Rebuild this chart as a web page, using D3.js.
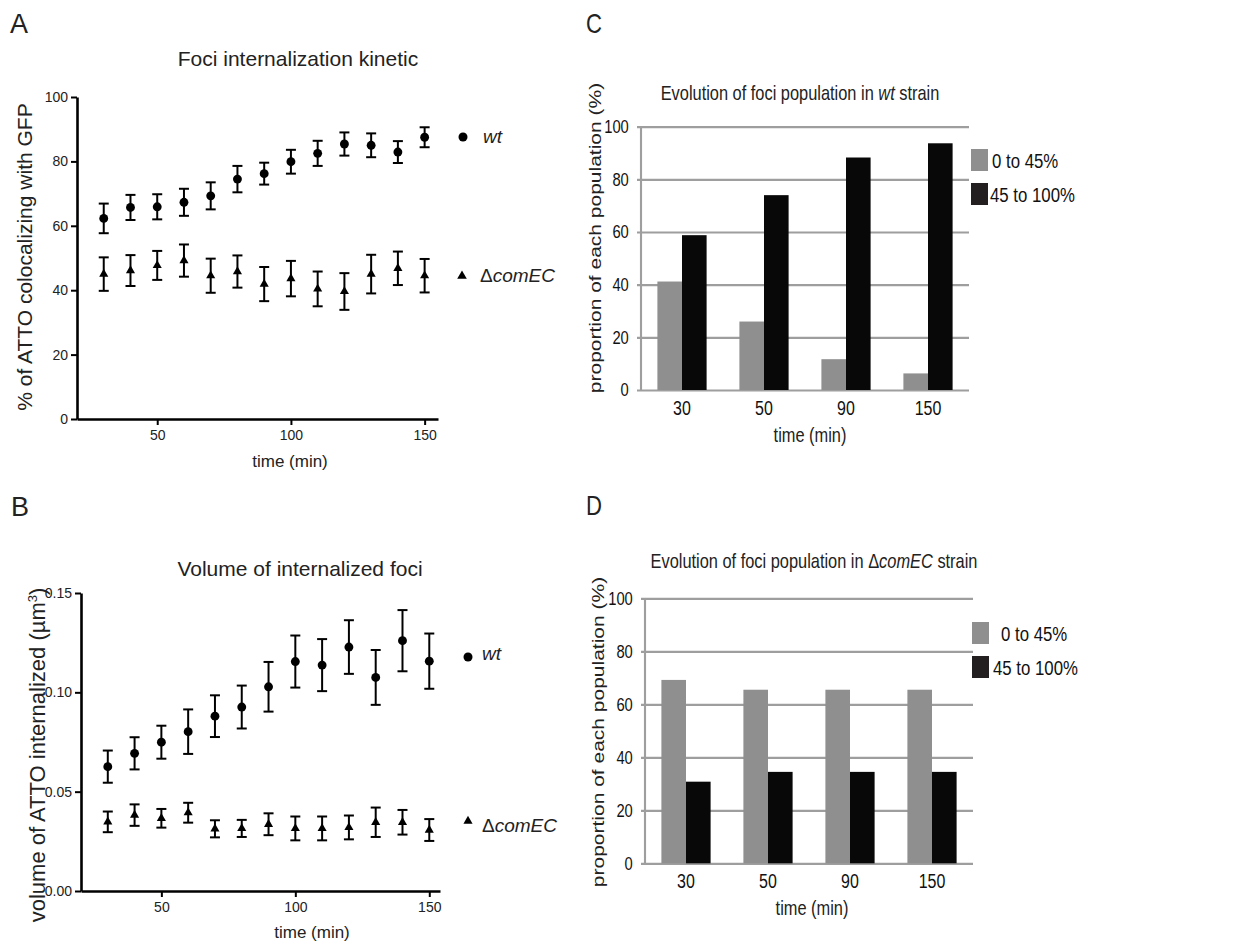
<!DOCTYPE html>
<html>
<head>
<meta charset="utf-8">
<script src="https://cdn.jsdelivr.net/npm/d3@7"></script>
<style>
body { margin: 0; background: #fff; }
svg { display: block; }
svg text { font-family: "Liberation Sans", Arial, Helvetica, sans-serif; }
</style>
</head>
<body>
<div id="chart"></div>
<script>
// Data
const times = [30, 40, 50, 60, 70, 80, 90, 100, 110, 120, 130, 140, 150];
const wtColoc = [62.3, 65.7, 65.9, 67.3, 69.3, 74.5, 76.2, 79.9, 82.5, 85.4, 85.0, 82.9, 87.5];
const wtColocErr = [4.6, 3.9, 3.9, 4.2, 4.2, 4.1, 3.4, 3.7, 3.9, 3.6, 3.7, 3.4, 3.1];
const comecColoc = [45.0, 46.1, 47.7, 49.2, 44.5, 45.8, 41.9, 43.6, 40.4, 39.6, 45.0, 46.8, 44.5];
const comecColocErr = [5.2, 4.8, 4.5, 5.0, 5.3, 5.0, 5.3, 5.5, 5.4, 5.7, 6.0, 5.2, 5.2];
const wtVolume = [0.0626, 0.0693, 0.0749, 0.0802, 0.0880, 0.0926, 0.1028, 0.1155, 0.1137, 0.1228, 0.1075, 0.1260, 0.1157];
const wtVolumeErr = [0.0081, 0.0081, 0.0083, 0.0112, 0.0105, 0.0108, 0.0125, 0.0131, 0.0131, 0.0135, 0.0138, 0.0154, 0.0139];
const comecVolume = [0.0348, 0.0382, 0.0366, 0.0394, 0.0313, 0.0315, 0.0336, 0.0315, 0.0315, 0.0320, 0.0346, 0.0346, 0.0307];
const comecVolumeErr = [0.0052, 0.0054, 0.0047, 0.0050, 0.0043, 0.0043, 0.0055, 0.0060, 0.0060, 0.0060, 0.0074, 0.0062, 0.0055];

const barTimes = ['30', '50', '90', '150'];
const popKeys = ['low', 'high'];
const popLabels = ['0 to 45%', '45 to 100%'];
const wtLow = [41.2, 26.0, 11.7, 6.3];
const wtHigh = [58.8, 74.0, 88.3, 93.7];
const comecLow = [69.2, 65.5, 65.5, 65.5];
const comecHigh = [30.8, 34.5, 34.5, 34.5];

const svg = d3.select('#chart').append('svg')
    .attr('width', 1234)
    .attr('height', 945);

svg.append('rect').attr('width', 1234).attr('height', 945).attr('fill', '#fff');

const barColors = {low: '#8f8f8f', high: '#080808'};
const legendColors = {low: '#8f8f8f', high: '#231f20'};
const squeeze = 0.82; // bar panels look horizontally compressed

function strainLabel(sel) {
    sel.append('tspan').text('\u0394');
    sel.append('tspan').attr('font-style', 'italic').text('comEC');
}

// Scatter with error bars (panels A and B)
function scatterPanel(o) {
    const x = d3.scaleLinear().domain(o.xDomain).range([o.left, o.right]);
    const y = d3.scaleLinear().domain(o.yDomain).range([o.bottom, o.top]);
    const g = svg.append('g');

    g.append('text').attr('x', o.letter[0]).attr('y', o.letter[1])
        .attr('font-size', 27).attr('fill', '#222').text(o.letter[2]);

    // Axes
    const ya = g.append('g')
        .attr('transform', `translate(${o.left},0)`)
        .call(d3.axisLeft(y).tickValues(o.yTicks).tickFormat(o.yFormat)
            .tickSize(6).tickSizeOuter(0).tickPadding(3));
    const xa = g.append('g')
        .attr('transform', `translate(0,${o.bottom})`)
        .call(d3.axisBottom(x).tickValues([50, 100, 150])
            .tickSize(6).tickSizeOuter(0).tickPadding(5));
    [ya, xa].forEach(a => {
        a.attr('font-family', null);
        a.select('.domain').attr('stroke', '#000').attr('stroke-width', 2.6);
        a.selectAll('.tick line').attr('stroke', '#000').attr('stroke-width', 2);
        a.selectAll('.tick text').attr('font-size', 14).attr('fill', '#222');
    });

    // Title and axis labels
    g.append('text').attr('x', o.titleX).attr('y', o.titleY)
        .attr('text-anchor', 'middle').attr('font-size', 21).attr('fill', '#222')
        .text(o.title);
    g.append('text').attr('x', o.xLabelX).attr('y', o.xLabelY)
        .attr('text-anchor', 'middle').attr('font-size', 17).attr('fill', '#222')
        .text('time (min)');
    const yl = g.append('text')
        .attr('transform', `translate(${o.yLabelX},${o.yLabelY}) rotate(-90)`)
        .attr('text-anchor', 'middle').attr('dy', '0.35em')
        .attr('font-size', o.yLabelSize).attr('fill', '#222');
    o.yLabel(yl);

    // Series
    o.series.forEach(s => {
        const pts = times.map((t, i) => ({t: t, m: s.mean[i], e: s.err[i]}));
        const eg = g.append('g').selectAll('g').data(pts).enter().append('g')
            .attr('stroke', '#000').attr('stroke-width', 2);
        eg.append('line')
            .attr('x1', d => x(d.t)).attr('x2', d => x(d.t))
            .attr('y1', d => y(d.m - d.e)).attr('y2', d => y(d.m + d.e));
        eg.append('line')
            .attr('x1', d => x(d.t) - 5).attr('x2', d => x(d.t) + 5)
            .attr('y1', d => y(d.m + d.e)).attr('y2', d => y(d.m + d.e));
        eg.append('line')
            .attr('x1', d => x(d.t) - 5).attr('x2', d => x(d.t) + 5)
            .attr('y1', d => y(d.m - d.e)).attr('y2', d => y(d.m - d.e));
        g.append('g').selectAll('path').data(pts).enter().append('path')
            .attr('d', d3.symbol(s.symbol, s.size))
            .attr('transform', d => `translate(${x(d.t)},${y(d.m)})`)
            .attr('fill', '#000');

        // Legend entry
        g.append('path')
            .attr('d', d3.symbol(s.symbol, s.legendSize))
            .attr('transform', `translate(${s.legend[0]},${s.legend[1]})`)
            .attr('fill', '#000');
        const lt = g.append('text')
            .attr('x', s.legend[2]).attr('y', s.legend[3])
            .attr('font-size', 19).attr('fill', '#222');
        s.label(lt);
    });
}

// Grouped bars (panels C and D), drawn in a horizontally squeezed group
function barPanel(o) {
    const ox = 560;
    const sx = X => (X - ox) / squeeze;
    const x = d3.scaleBand().domain(barTimes).range([sx(o.left), sx(o.right)]);
    const sub = d3.scaleBand().domain(popKeys).range([x.bandwidth() * 0.2, x.bandwidth() * 0.8]);
    const y = d3.scaleLinear().domain([0, 100]).range([o.bottom, o.top]);
    const g = svg.append('g').attr('transform', `translate(${ox},0) scale(${squeeze},1)`);

    g.append('text').attr('x', sx(o.letter[0])).attr('y', o.letter[1])
        .attr('font-size', 27).attr('fill', '#222').text(o.letter[2]);

    // Grid
    const grid = g.append('g')
        .attr('transform', `translate(${sx(o.left - 4)},0)`)
        .call(d3.axisLeft(y).tickValues([0, 20, 40, 60, 80, 100])
            .tickSize(-(sx(o.right) - sx(o.left - 4))).tickPadding(10));
    grid.attr('font-family', null);
    grid.select('.domain').remove();
    grid.selectAll('.tick line').attr('stroke', '#9e9e9e').attr('stroke-width', 2.2);
    grid.selectAll('.tick text').attr('font-size', 18).attr('fill', '#111');

    // Bars
    const rows = barTimes.map((t, i) => ({t: t, low: o.low[i], high: o.high[i]}));
    const grp = g.append('g').selectAll('g').data(rows).enter().append('g')
        .attr('transform', d => `translate(${x(d.t)},0)`);
    grp.selectAll('rect').data(d => popKeys.map(k => ({k: k, v: d[k]}))).enter().append('rect')
        .attr('x', d => sub(d.k))
        .attr('width', sub.bandwidth())
        .attr('y', d => y(d.v))
        .attr('height', d => y(0) - y(d.v))
        .attr('fill', d => barColors[d.k]);

    // Vertical axis line
    g.append('line')
        .attr('x1', sx(o.left)).attr('x2', sx(o.left))
        .attr('y1', y(100)).attr('y2', y(0))
        .attr('stroke', '#9e9e9e').attr('stroke-width', 2.6);

    // X labels
    const xa = g.append('g')
        .attr('transform', `translate(0,${o.bottom})`)
        .call(d3.axisBottom(x).tickSize(0).tickPadding(11));
    xa.attr('font-family', null);
    xa.select('.domain').remove();
    xa.selectAll('.tick text').attr('font-size', 19.5).attr('fill', '#111');

    // Title and axis labels
    const tt = g.append('text').attr('x', sx(o.titleX)).attr('y', o.titleY)
        .attr('text-anchor', 'middle').attr('font-size', 20).attr('fill', '#222');
    o.title(tt);
    g.append('text').attr('x', sx(o.xLabelX)).attr('y', o.xLabelY)
        .attr('text-anchor', 'middle').attr('font-size', 20).attr('fill', '#222')
        .text('time (min)');
    g.append('text')
        .attr('transform', `translate(${sx(o.yLabelX)},${o.yLabelY}) rotate(-90)`)
        .attr('text-anchor', 'middle').attr('dy', '0.35em')
        .attr('font-size', 21).attr('fill', '#222')
        .text('proportion of each population (%)');

    // Legend
    popKeys.forEach((k, i) => {
        g.append('rect')
            .attr('x', sx(o.legendX)).attr('y', o.legendY[i])
            .attr('width', 17 / squeeze).attr('height', 22)
            .attr('fill', legendColors[k]);
        g.append('text')
            .attr('x', sx(o.legendTextX[i])).attr('y', o.legendY[i] + 19)
            .attr('font-size', 20.5).attr('fill', '#111')
            .text(popLabels[i]);
    });
}

scatterPanel({
    letter: [10, 33, 'A'],
    xDomain: [20, 155], yDomain: [0, 100],
    left: 77, right: 438, top: 97, bottom: 419,
    yTicks: [0, 20, 40, 60, 80, 100], yFormat: d3.format('d'),
    title: 'Foci internalization kinetic', titleX: 298, titleY: 66,
    xLabelX: 290, xLabelY: 467,
    yLabelX: 25, yLabelY: 257, yLabelSize: 21,
    yLabel: t => t.text('% of ATTO colocalizing with GFP'),
    series: [
        {mean: wtColoc, err: wtColocErr, symbol: d3.symbolCircle, size: 62, legendSize: 64,
            legend: [463, 137, 483, 143],
            label: t => t.attr('font-style', 'italic').text('wt')},
        {mean: comecColoc, err: comecColocErr, symbol: d3.symbolTriangle, size: 36, legendSize: 40,
            legend: [462, 276, 480, 282],
            label: strainLabel}
    ]
});

scatterPanel({
    letter: [11, 516, 'B'],
    xDomain: [20, 154], yDomain: [0, 0.15],
    left: 81, right: 440, top: 593, bottom: 891,
    yTicks: [0, 0.05, 0.10, 0.15], yFormat: d3.format('.2f'),
    title: 'Volume of internalized foci', titleX: 300, titleY: 576,
    xLabelX: 312, xLabelY: 938,
    yLabelX: 37, yLabelY: 755, yLabelSize: 22,
    yLabel: t => {
        t.append('tspan').text('volume of ATTO internalized (\u00b5m');
        t.append('tspan').attr('dy', -8).attr('font-size', 13).text('3');
        t.append('tspan').attr('dy', 8).text(')');
    },
    series: [
        {mean: wtVolume, err: wtVolumeErr, symbol: d3.symbolCircle, size: 62, legendSize: 64,
            legend: [468, 657, 482, 660],
            label: t => t.attr('font-style', 'italic').text('wt')},
        {mean: comecVolume, err: comecVolumeErr, symbol: d3.symbolTriangle, size: 36, legendSize: 36,
            legend: [468, 821, 482, 832],
            label: strainLabel}
    ]
});

barPanel({
    letter: [586, 33, 'C'],
    low: wtLow, high: wtHigh,
    left: 641, right: 969, top: 126.7, bottom: 390,
    title: t => {
        t.append('tspan').text('Evolution of foci population in ');
        t.append('tspan').attr('font-style', 'italic').text('wt');
        t.append('tspan').text(' strain');
    },
    titleX: 800, titleY: 100,
    xLabelX: 810, xLabelY: 442,
    yLabelX: 595, yLabelY: 238,
    legendX: 971, legendY: [149, 183], legendTextX: [992, 990]
});

barPanel({
    letter: [586, 515, 'D'],
    low: comecLow, high: comecHigh,
    left: 645, right: 973, top: 598.3, bottom: 863.3,
    title: t => {
        t.append('tspan').text('Evolution of foci population in ');
        strainLabel(t);
        t.append('tspan').text(' strain');
    },
    titleX: 814, titleY: 568,
    xLabelX: 812, xLabelY: 915,
    yLabelX: 598, yLabelY: 732,
    legendX: 972, legendY: [622, 656], legendTextX: [1001, 993]
});
</script>
</body>
</html>
